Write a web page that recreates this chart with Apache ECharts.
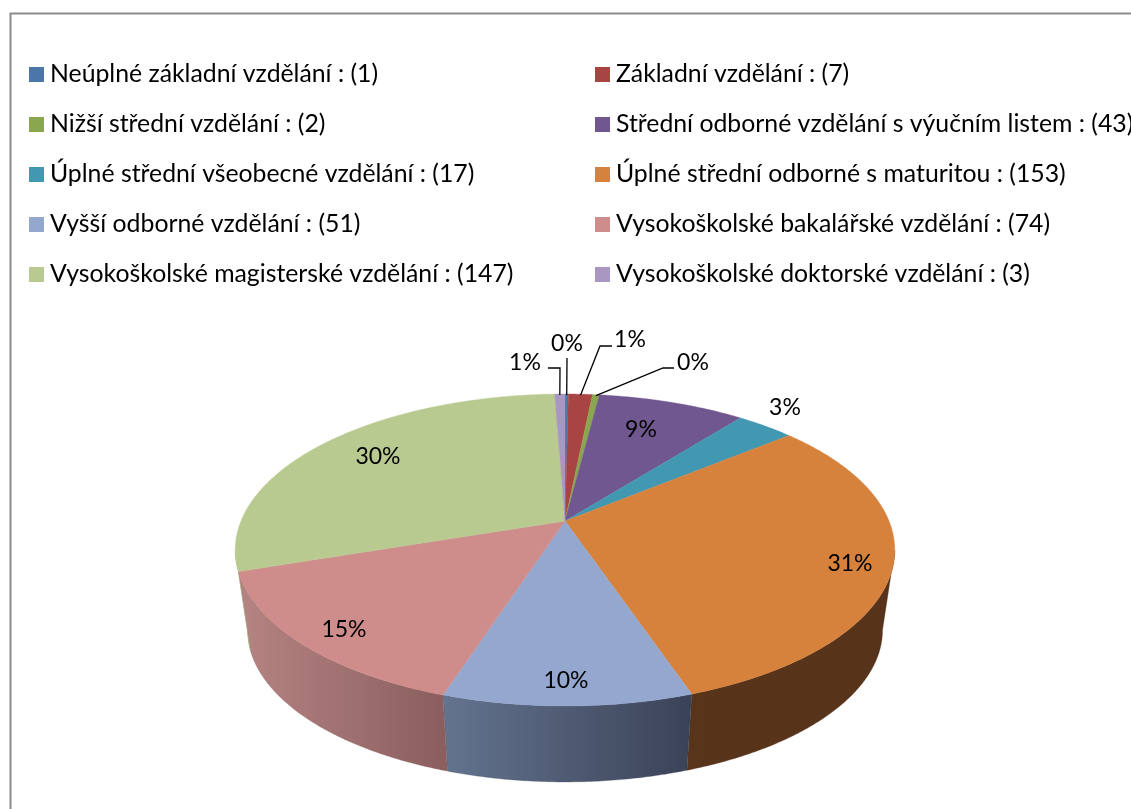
<!DOCTYPE html>
<html><head><meta charset="utf-8">
<style>html,body{margin:0;padding:0;background:#fff;overflow:hidden}#c{width:1131px;height:809px}</style>
<script src="https://cdn.jsdelivr.net/npm/echarts@6/dist/echarts.min.js"></script>
</head><body><div id="c"></div>
<script>
const categories = ['Neúplné základní vzdělání','Základní vzdělání','Nižší střední vzdělání','Střední odborné vzdělání s výučním listem','Úplné střední všeobecné vzdělání','Úplné střední odborné s maturitou','Vyšší odborné vzdělání','Vysokoškolské bakalářské vzdělání','Vysokoškolské magisterské vzdělání','Vysokoškolské doktorské vzdělání'];
const values = [1,7,2,43,17,153,51,74,147,3];
const topColors = ['#4a76a8','#a84442','#8aa64f','#71578f','#4298b0','#d6813c','#94a7cf','#ce8c8b','#b9ca91','#a897c0'];
const wallColors = [['#3a5c85','#3a5c85'],['#7d3230','#7d3230'],['#8fa36a','#8fa36a'],['#54406a','#54406a'],['#317083','#317083'],['#58341a','#56331a'],['#64748f','#3a4257'],['#b58483','#8a5e5e'],['#9bad78','#9bad78'],['#7d7090','#7d7090']];
const labelCentres = [[567,344],[630,340],[693,363],[641,430],[785,408],[850,564],[566,681],[344,630],[378,457],[525,363]];
const leaderElbows = [[[567,358]],[[612,346],[600,346]],[[674,368],[663,368]],null,null,null,null,null,null,[[548,368],[560,368]]];

const FONT = 'Lato, "Open Sans", sans-serif';
const LEGEND_SIZE = 24.8, LABEL_SIZE = 23;
const total = values.reduce((a,b)=>a+b,0);
const legendNames = categories.map((c,i)=>c+' : ('+values[i]+')');

// Perspective projection of the disc
const K = 0.186;
const TOP = {cx:565, cy:521, f:324, g:150.6};
const BOT = {cx:565, cy:601.7, f:312, g:146.7};
const VIS_A = Math.acos(-K)*180/Math.PI, VIS_B = 360-VIS_A;
function proj(d, deg, r){
  const a = deg*Math.PI/180, rr = r===undefined?1:r;
  const u = rr*Math.sin(a), v = -rr*Math.cos(a), w = 1-K*v;
  return [d.cx+d.f*u/w, d.cy+d.g*v/w];
}
function arc(d, a0, a1){
  const pts=[], n=Math.max(2,Math.ceil((a1-a0)/0.5));
  for(let i=0;i<=n;i++) pts.push(proj(d,a0+(a1-a0)*i/n));
  return pts;
}
let cum=0;
const spans = values.map(v=>{const s=cum/total*360; cum+=v; return [s,cum/total*360];});

function renderSlice(idx){
  return function(params, api){
    const [a0,a1] = spans[idx];
    const val = api.value(0);
    const children=[];
    const wa=Math.max(a0,VIS_A), wb=Math.min(a1,VIS_B);
    if(wb>wa){
      const pts = arc(TOP,wa,wb).concat(arc(BOT,wa,wb).reverse());
      const fill = new echarts.graphic.LinearGradient(0,0,1,0,[{offset:0,color:wallColors[idx][0]},{offset:1,color:wallColors[idx][1]}]);
      children.push({type:'polygon',z2:1,shape:{points:pts},style:{fill,stroke:wallColors[idx][1],lineWidth:0.3}});
    }
    const topPts=[[TOP.cx,TOP.cy]].concat(arc(TOP,a0,a1));
    children.push({type:'polygon',z2:2,shape:{points:topPts},style:{fill:topColors[idx],stroke:topColors[idx],lineWidth:0.4}});
    const lc=labelCentres[idx];
    if(leaderElbows[idx]){
      const end=proj(TOP,(a0+a1)/2);
      children.push({type:'polyline',z2:3,shape:{points:leaderElbows[idx].concat([[end[0],end[1]+1]])},style:{fill:'none',stroke:'#000',lineWidth:1.3}});
    }
    children.push({type:'text',z2:4,style:{x:lc[0],y:lc[1],text:Math.round(val/total*100)+'%',fill:'#000',font:LABEL_SIZE+'px '+FONT,align:'center',verticalAlign:'middle'}});
    return {type:'group',children};
  };
}
const series = categories.map((c,i)=>({
  type:'custom', name:legendNames[i], coordinateSystem:'none',
  data:[[values[i]]], renderItem:renderSlice(i), silent:true, animation:false,
  itemStyle:{color:topColors[i]}
}));
function legend(left, idxs){
  return {orient:'vertical',left,top:62,padding:0,icon:'rect',itemWidth:15,itemHeight:15,itemGap:25,
    selectedMode:false,data:idxs.map(i=>legendNames[i]),
    textStyle:{color:'#000',fontFamily:FONT,fontSize:LEGEND_SIZE,padding:[0,0,0,1],lineHeight:25}};
}
const chart=echarts.init(document.getElementById('c'),null,{renderer:'canvas'});
chart.setOption({
  animation:false, backgroundColor:'#fff',
  graphic:[{type:'rect',silent:true,z:-1,shape:{x:10.5,y:13.5,width:1400,height:1000},style:{fill:'none',stroke:'#8c8c8c',lineWidth:2}}],
  legend:[legend(29,[0,2,4,6,8]),legend(595,[1,3,5,7,9])],
  series
});
</script></body></html>
